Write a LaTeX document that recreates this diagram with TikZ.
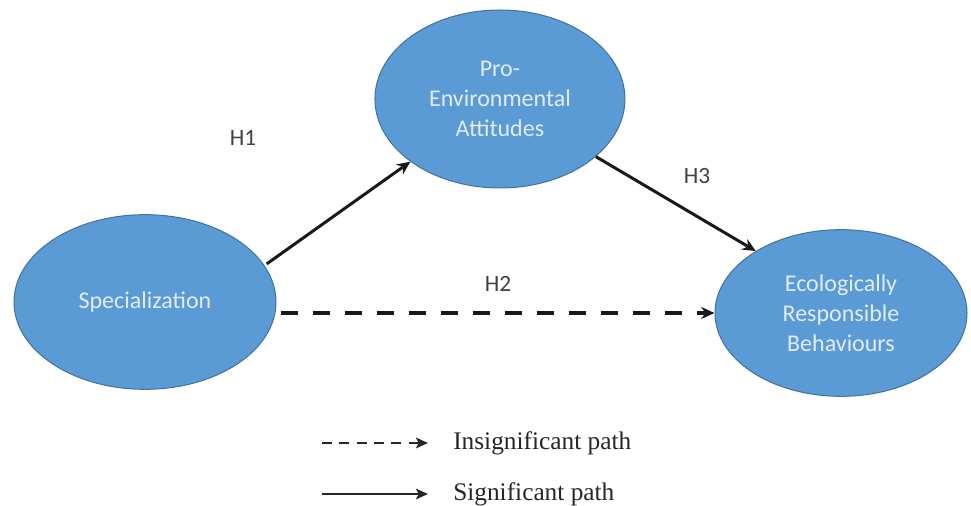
\documentclass[tikz,border=0pt]{standalone}
\usepackage{fontspec}
\setmainfont{Liberation Serif}
\newfontfamily\calibri{Carlito}
\usetikzlibrary{arrows.meta}
\usetikzlibrary{shapes}
\definecolor{ovalblue}{HTML}{5B9BD5}
\definecolor{ovalline}{HTML}{41719C}
\definecolor{ovaltext}{HTML}{E1ECF7}
\definecolor{labelgray}{HTML}{404040}

\begin{document}
\begin{tikzpicture}
\tikzset{
   node distance = 2cm,
   latent/.style = {ellipse, draw = ovalline, line width = 0.75pt, fill = ovalblue, text = ovaltext, align = center, inner sep = 0pt, font = \calibri\fontsize{18}{22.5}\selectfont},
   hypo/.style = {text = labelgray, inner sep = 0pt, font = \calibri\fontsize{17.5}{20}\selectfont},
   legend/.style = {anchor = west, inner sep = 0pt, text = black!85, font = \fontsize{19}{22}\selectfont},
   path_sig/.style = {-{Stealth[length = 10pt, width = 9pt]}, line width = 2.25pt, black!90},
   path_insig/.style = {path_sig, line width = 3pt, dash pattern = on 12.75pt off 11.25pt},
   legend_sig/.style = {-{Stealth[length = 9pt, width = 8pt, inset = 2pt]}, line width = 1.5pt, black!85, shorten > = 18.75pt},
   legend_insig/.style = {legend_sig, dash pattern = on 7.5pt off 5.5pt}
 }
  \node [latent, minimum width = 196.5pt, minimum height = 131pt] (spec) {Specialization};
  \useasboundingbox ([xshift = -108.75pt, yshift = 226.5pt]spec.center) rectangle ([xshift = 619.5pt, yshift = -153pt]spec.center);

  \node [latent, minimum width = 187.5pt, minimum height = 133.5pt] (pea) [right of = spec, xshift = 209.3pt, yshift = 152.25pt] {Pro-\\Environmental\\Attitudes};
  \node [latent, minimum width = 189pt, minimum height = 125pt] (erb) [right of = spec, xshift = 465.1pt, yshift = -8.25pt] {Ecologically\\Responsible\\Behaviours};

  \draw [path_sig, shorten < = 2pt] (spec.17) -- (pea.215);
  \draw [path_sig] (pea.-31) -- (erb.144);
  \draw [path_insig, shorten < = 3pt] (spec.east |- erb.west) -- (erb.west);

  \node [hypo] (h1) at ([xshift = 73.5pt, yshift = 123pt]spec.center) {H1};
  \node [hypo] (h2) at ([xshift = 264.75pt, yshift = 13.5pt]spec.center) {H2};
  \node [hypo] (h3) at ([xshift = 414pt, yshift = 94.5pt]spec.center) {H3};

  % legend
  \node [legend] (ins) at ([xshift = 231pt, yshift = -105.75pt]spec.center) {Insignificant path};
  \node [legend] (sig) at ([yshift = -38.25pt]ins.west) {Significant path};
  \coordinate (ins_tail) at ([xshift = -98.25pt]ins.west);
  \coordinate (sig_tail) at ([xshift = -98.25pt]sig.west);
  \draw [legend_insig] (ins_tail) -- (ins.west);
  \draw [legend_sig] (sig_tail) -- (sig.west);

\end{tikzpicture}
\end{document}
